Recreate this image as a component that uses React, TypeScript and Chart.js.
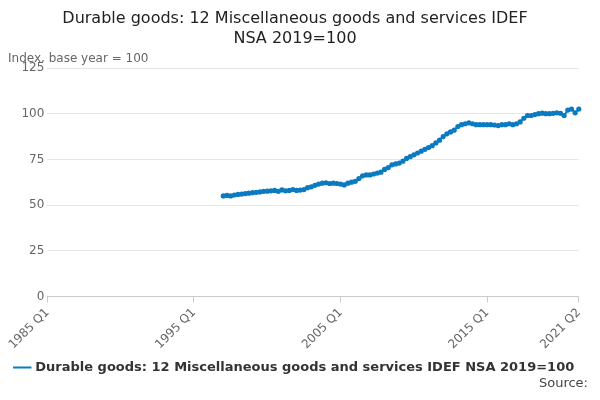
import React, { useEffect, useRef } from "react";
import { Chart, registerables } from "chart.js";
Chart.register(...registerables);

const startYear = 1985;
const endIndex = 145; // 2021 Q2
const dataStartIndex = 48; // 1997 Q1
const values: number[] = [
  55, 55.3, 55, 55.5,
  55.8, 56, 56.3, 56.5,
  56.8, 57, 57.2, 57.5,
  57.6, 57.8, 58, 57.5,
  58.3, 57.8, 58, 58.5,
  58, 58.2, 58.5, 59.5,
  60, 60.8, 61.5, 62,
  62.2, 61.8, 62, 61.8,
  61.5, 61, 62, 62.5,
  63, 64.5, 66, 66.5,
  66.5, 67, 67.5, 68,
  69.5, 70.5, 72, 72.5,
  73, 74, 75.5, 76.5,
  77.5, 78.5, 79.5, 80.5,
  81.5, 82.5, 84, 85.5,
  87.5, 89, 90, 91,
  93, 94, 94.5, 95,
  94.5, 94, 94, 94,
  94, 94, 93.8, 93.5,
  94, 94, 94.5, 94,
  94.5, 95.5, 97.5, 99,
  99, 99.5, 100, 100.3,
  100, 100, 100.2, 100.5,
  100.2, 99, 102, 102.5,
  100.5, 102.5,
];
const shownTicks = ["1985 Q1", "1995 Q1", "2005 Q1", "2015 Q1", "2021 Q2"];
const seriesName = "Durable goods: 12 Miscellaneous goods and services IDEF NSA 2019=100";

const labels: string[] = [];
for (let i = 0; i <= endIndex; i++) labels.push(`${startYear + Math.floor(i / 4)} Q${(i % 4) + 1}`);
const series: (number | null)[] = labels.map((_, i) =>
  i >= dataStartIndex && i - dataStartIndex < values.length ? values[i - dataStartIndex] : null
);

const sourcePlugin = {
  id: "source",
  afterDraw(chart: any) {
    const { ctx, width, height } = chart;
    ctx.save();
    ctx.font = "13px 'DejaVu Sans'";
    ctx.fillStyle = "#444";
    ctx.textAlign = "right";
    ctx.textBaseline = "bottom";
    ctx.fillText("Source:", width - 4, height - 2);
    ctx.restore();
  },
};

export default function App() {
  const ref = useRef<HTMLCanvasElement>(null);
  useEffect(() => {
    const chart = new Chart(ref.current!, {
      type: "line",
      data: {
        labels,
        datasets: [
          {
            label: seriesName,
            data: series,
            borderColor: "#0b7bc1",
            backgroundColor: "#0b7bc1",
            borderWidth: 2,
            pointRadius: 1.6,
            pointHoverRadius: 1.6,
            pointStyle: "circle",
            spanGaps: false,
          },
        ],
      },
      options: {
        animation: false,
        responsive: false,
        layout: { padding: { left: 0, right: 10, bottom: 8 } },
        plugins: {
          title: {
            display: true,
            text: ["Durable goods: 12 Miscellaneous goods and services IDEF", "NSA 2019=100"],
            font: { family: "'DejaVu Sans'", size: 16, weight: "normal", lineHeight: 1.3 },
            color: "#222",
            padding: { top: 0, bottom: 0 },
          },
          subtitle: {
            display: true,
            text: "Index, base year = 100",
            align: "start",
            font: { family: "'DejaVu Sans'", size: 12 },
            color: "#666",
            padding: { top: 2, bottom: 2 },
          },
          legend: {
            position: "bottom",
            labels: {
              usePointStyle: true,
              font: { family: "'DejaVu Sans'", size: 13, weight: "bold" },
              color: "#333",
              padding: 6,
              generateLabels: (c: any) => {
                const l = Chart.defaults.plugins.legend.labels.generateLabels(c);
                return l.map((x: any) => ({ ...x, pointStyle: "line", lineWidth: 2 }));
              },
            },
          },
          tooltip: { enabled: false },
        },
        scales: {
          x: {
            grid: {
              drawOnChartArea: false,
              color: (c: any) => (shownTicks.includes(labels[c.index]) ? "#ccc" : "rgba(0,0,0,0)"),
              tickLength: 6,
            },
            border: { color: "#ccc" },
            ticks: {
              autoSkip: false,
              maxRotation: 45,
              minRotation: 45,
              font: { family: "'DejaVu Sans'", size: 12 },
              color: "#666",
              callback: (v: any) => (shownTicks.includes(labels[v]) ? labels[v] : ""),
            },
          },
          y: {
            min: 0,
            max: 125,
            ticks: { stepSize: 25, font: { family: "'DejaVu Sans'", size: 12 }, color: "#666" },
            grid: { color: "#e6e6e6", drawTicks: false },
            border: { display: false },
          },
        },
      },
      plugins: [sourcePlugin],
    } as any);
    return () => chart.destroy();
  }, []);
  return <canvas ref={ref} width={584} height={384} />;
}
